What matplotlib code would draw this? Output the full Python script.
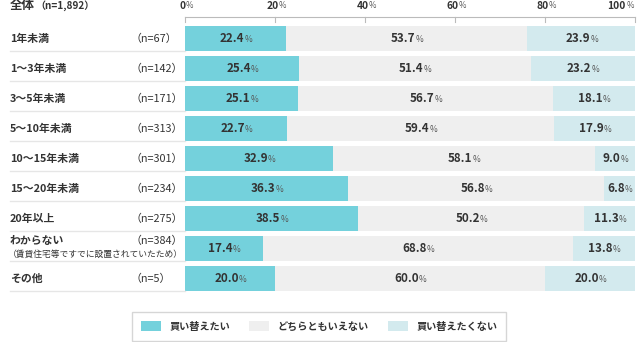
import matplotlib.pyplot as plt
import matplotlib.transforms as mtransforms
from matplotlib.patches import Patch

plt.rcParams['font.family'] = ['Noto Sans CJK JP', 'DejaVu Sans']

# 回答データ（%）
categories = ["1年未満", "1～3年未満", "3～5年未満", "5～10年未満", "10～15年未満",
              "15～20年未満", "20年以上", "わからない", "その他"]
n_counts = [67, 142, 171, 313, 301, 234, 275, 384, 5]
want = [22.4, 25.4, 25.1, 22.7, 32.9, 36.3, 38.5, 17.4, 20.0]
neutral = [53.7, 51.4, 56.7, 59.4, 58.1, 56.8, 50.2, 68.8, 60.0]
dont_want = [23.9, 23.2, 18.1, 17.9, 9.0, 6.8, 11.3, 13.8, 20.0]
series_names = ["買い替えたい", "どちらともいえない", "買い替えたくない"]
x_ticks = [0, 20, 40, 60, 80, 100]
total_n = "1,892"

colors = ["#74d1dc", "#efefef", "#d3eaee"]
txt = "#333333"

W, H = 640, 342
fig = plt.figure(figsize=(W / 100, H / 100), dpi=100)


def fx(px):
    return px / W


def fy(py):
    return 1 - py / H


ax = fig.add_axes([fx(185), fy(293.5), fx(635) - fx(185), fy(23.5) - fy(293.5)])
ax.set_xlim(0, 100)
ax.set_ylim(len(categories) - 0.5, -0.5)
ax.axis("off")

bar_h = 25 / 30
ypos = list(range(len(categories)))
left = [0] * len(categories)
for vals, col in zip([want, neutral, dont_want], colors):
    ax.barh(ypos, vals, left=left, height=bar_h, color=col, linewidth=0)
    for i, v in enumerate(vals):
        cx = left[i] + v / 2
        t = ax.text(cx, i, f"{v:.1f}", ha="center", va="center", fontsize=8.4,
                    fontweight="bold", color=txt,
                    transform=mtransforms.offset_copy(ax.transData, fig=fig, x=-3.5, y=0, units="dots"))
        ax.annotate("%", xy=(1, 0.08), xycoords=t, xytext=(0.1, 0), textcoords="offset points",
                    ha="left", va="bottom", fontsize=6, color="#555555")
    left = [a + b for a, b in zip(left, vals)]

# 行ラベルと区切り線
lab_tr = mtransforms.blended_transform_factory(fig.transFigure, ax.transData)
for i, (c, n) in enumerate(zip(categories, n_counts)):
    if c == "わからない":
        dy = -0.25
        ax.text(fx(8), i + 0.18, "（賃貸住宅等ですでに設置されていたため）", transform=lab_tr,
                ha="left", va="center", fontsize=6.3, color=txt)
    else:
        dy = 0
    ax.text(fx(10), i + dy, c, transform=lab_tr, ha="left", va="center",
            fontsize=7.8, fontweight="bold", color=txt)
    ax.text(fx(131), i + dy, f"（n={n}）", transform=lab_tr, ha="left", va="center",
            fontsize=7.8, color=txt)
    ax.plot([fx(10), fx(185)], [i + bar_h / 2] * 2, transform=lab_tr,
            color="#e6e6e6", lw=1, clip_on=False)

# 上部の目盛り
top_tr = mtransforms.blended_transform_factory(ax.transData, fig.transFigure)
ax.plot([0, 100], [fy(17), fy(17)], transform=top_tr, color="#bbbbbb", lw=0.8, clip_on=False)
for xt in x_ticks:
    ax.plot([xt, xt], [fy(17), fy(22)], transform=top_tr, color="#bbbbbb", lw=0.8, clip_on=False)
    ha = "right" if xt == 100 else "center"
    off = -9 if xt == 100 else -2.5
    t = ax.text(xt, fy(6), f"{xt}", ha=ha, va="center", fontsize=7.4, fontweight="bold", color=txt,
                transform=mtransforms.offset_copy(top_tr, fig=fig, x=off, y=0, units="dots"))
    ax.annotate("%", xy=(1, 0.08), xycoords=t, xytext=(0.1, 0), textcoords="offset points",
                ha="left", va="bottom", fontsize=5.8, color="#555555")

t = ax.text(fx(10), fy(6), "全体", transform=fig.transFigure, ha="left", va="center",
            fontsize=9, fontweight="bold", color=txt)
ax.annotate(f"（n={total_n}）", xy=(1, 0.5), xycoords=t, xytext=(0.1, 0),
            textcoords="offset points", ha="left", va="center", fontsize=7.2,
            fontweight="bold", color=txt, annotation_clip=False)

# 凡例
handles = [Patch(facecolor=c, edgecolor="none") for c in colors]
leg = fig.legend(handles, series_names, loc="center", ncol=3,
                 bbox_to_anchor=(fx(319), fy(326.5)), frameon=True, fancybox=False,
                 fontsize=7.3, handlelength=2.0, handleheight=1.0, handletextpad=0.8,
                 columnspacing=1.9, borderpad=0.9, borderaxespad=0)
leg.get_frame().set_edgecolor("#cccccc")
leg.get_frame().set_linewidth(1)
for tx in leg.get_texts():
    tx.set_color(txt)
    tx.set_fontweight("bold")

fig.savefig("out.png", dpi=100)
